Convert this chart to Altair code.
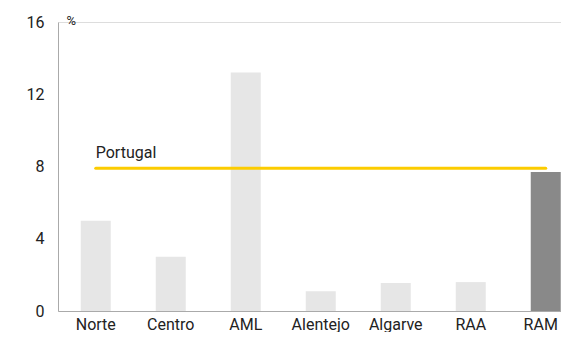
import altair as alt
import pandas as pd

regions = ["Norte", "Centro", "AML", "Alentejo", "Algarve", "RAA", "RAM"]
values = [5.0, 3.0, 13.2, 1.1, 1.55, 1.6, 7.7]
highlight = ["no", "no", "no", "no", "no", "no", "yes"]
portugal_value = 7.9
portugal_label = "Portugal"

df = pd.DataFrame({"region": regions, "value": values, "hl": highlight})
line_df = pd.DataFrame({"start": [regions[0]], "end": [regions[-1]],
                        "value": [portugal_value], "label": [portugal_label]})

FONT = "Roboto"

x_scale = alt.Scale(domain=regions, paddingInner=0.6, paddingOuter=0.1533, align=0.989)
y_scale = alt.Scale(domain=[0, 16])

bars = alt.Chart(df).mark_bar().encode(
    x=alt.X("region:N", scale=x_scale, sort=regions,
            axis=alt.Axis(title=None, labelAngle=0, labelFontSize=16, labelPadding=5,
                          labelOffset=alt.condition("datum.value == 'RAM'", alt.value(-5), alt.value(0)),
                          ticks=False, domainColor="#aaaaaa", labelColor="#222222",
                          labelFont=FONT, labelOverlap=False, labelBound=False)),
    y=alt.Y("value:Q", scale=y_scale,
            axis=alt.Axis(values=[0, 4, 8, 12, 16], title="%", titleAngle=0,
                          titleAlign="left", titleBaseline="middle", titleX=8, titleY=-2,
                          titleFontSize=13, titleFontWeight="normal", titleFont=FONT,
                          titleColor="#222222",
                          labelFontSize=16, labelPadding=14, ticks=False, grid=False,
                          domainColor="#aaaaaa", labelColor="#222222", labelFont=FONT)),
    color=alt.Color("hl:N", scale=alt.Scale(domain=["no", "yes"], range=["#e6e6e6", "#898989"]),
                    legend=None),
)

rule = alt.Chart(line_df).mark_rule(color="#fccc00", strokeWidth=3, strokeCap="round").encode(
    x=alt.X("start:N", scale=x_scale),
    x2="end:N",
    y=alt.Y("value:Q", scale=y_scale),
)

label = alt.Chart(line_df).mark_text(align="left", baseline="alphabetic", dy=-10,
                                     fontSize=16, font=FONT, color="#222222").encode(
    x=alt.X("start:N", scale=x_scale),
    y=alt.Y("value:Q", scale=y_scale),
    text="label:N",
)

chart = alt.layer(bars, rule, label).properties(
    width=503, height=289,
    autosize=alt.AutoSizeParams(type="none"),
    padding={"left": 50, "top": 14, "right": 0, "bottom": 21},
).configure_view(stroke=None).configure(font=FONT)

chart.save("out.html", embed_options={"renderer": "svg", "actions": False})
